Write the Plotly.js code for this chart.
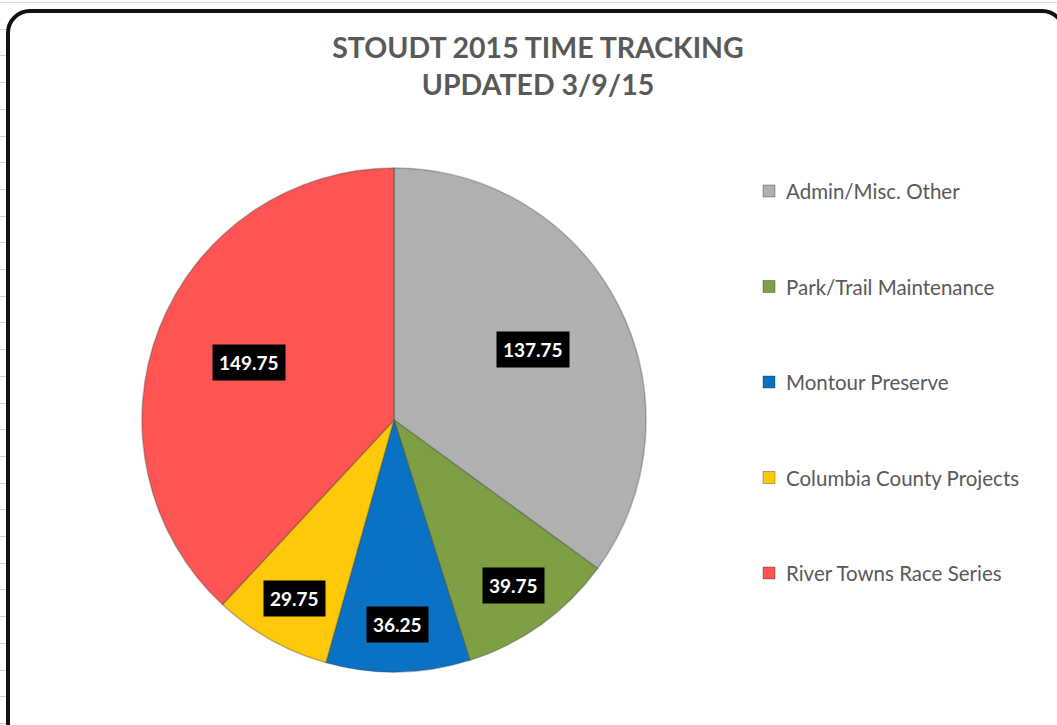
<!DOCTYPE html>
<html>
<head>
<meta charset="utf-8">
<script src="https://cdn.plot.ly/plotly-3.0.1.min.js"></script>
<style>
  html, body { margin:0; padding:0; width:1057px; height:725px; overflow:hidden; background:#fff; }
  #grid { position:absolute; left:0; top:0; width:1057px; height:725px;
    background-image:
      repeating-linear-gradient(to bottom, transparent 0px, transparent 2px, #d6d6d6 2px, #d6d6d6 3px, transparent 3px, transparent 26.7px);
  }
  #frame { position:absolute; left:6px; top:9px; width:1060px; height:740px; box-sizing:border-box;
    background:#fff; border:4px solid #111; border-radius:24px; }
  #chart { position:absolute; left:0; top:0; width:1057px; height:725px; }
</style>
</head>
<body>
<div id="grid"></div>
<div id="frame"></div>
<div id="chart"></div>
<script>
const categories = ["Admin/Misc. Other", "Park/Trail Maintenance", "Montour Preserve", "Columbia County Projects", "River Towns Race Series"];
const hours = [137.75, 39.75, 36.25, 29.75, 149.75];
const sliceColors = ["#b0b0b0", "#7f9f45", "#0a72c4", "#ffc90a", "#fe5454"];
const chartTitle = "STOUDT 2015 TIME TRACKING<br>UPDATED 3/9/15";

const W = 1057, H = 725;
const cx = 394, cy = 420, R = 252;

const total = hours.reduce((a, b) => a + b, 0);
const annotations = [];
const shapes = [];
let cum = 0;
hours.forEach((v, i) => {
  const mid = (cum + v / 2) / total * 2 * Math.PI;
  cum += v;
  const frac = v / total > 0.25 ? 0.62 : 0.81;
  const px = cx + frac * R * Math.sin(mid);
  const py = cy - frac * R * Math.cos(mid);
  annotations.push({
    xref: "paper", yref: "paper", x: px / W, y: 1 - py / H,
    text: "<b>" + v.toFixed(2) + "</b>", showarrow: false,
    font: { family: "Lato, 'Open Sans', sans-serif", size: 19, color: "#ffffff" },
    bgcolor: "#000000", borderpad: 6, xanchor: "center", yanchor: "middle"
  });
});

// legend built as annotations + squares
const legTop = 191, legGap = 95.5;
categories.forEach((c, i) => {
  const ly = legTop + i * legGap;
  shapes.push({
    type: "rect", xref: "paper", yref: "paper",
    x0: 763 / W, x1: 775 / W, y0: 1 - (ly - 6) / H, y1: 1 - (ly + 6) / H,
    fillcolor: sliceColors[i], line: { color: "rgba(0,0,0,0.3)", width: 1 }
  });
  annotations.push({
    xref: "paper", yref: "paper", x: 784 / W, y: 1 - ly / H,
    text: c, showarrow: false, xanchor: "left", yanchor: "middle",
    font: { family: "Lato, 'Open Sans', sans-serif", size: 20.5, color: "#595959" }
  });
});

const data = [{
  type: "pie",
  labels: categories,
  values: hours,
  sort: false,
  direction: "clockwise",
  rotation: 0,
  textinfo: "none",
  hoverinfo: "label+value",
  marker: { colors: sliceColors, line: { color: "rgba(60,60,60,0.35)", width: 1.5 } },
  domain: { x: [(cx - R) / W, (cx + R) / W], y: [1 - (cy + R) / H, 1 - (cy - R) / H] },
  showlegend: false
}];

const layout = {
  width: W, height: H,
  margin: { l: 0, r: 0, t: 0, b: 0 },
  paper_bgcolor: "rgba(0,0,0,0)",
  plot_bgcolor: "rgba(0,0,0,0)",
  title: {
    text: "<b>" + chartTitle + "</b>",
    x: 538 / W, xanchor: "center", y: 1 - 58 / H, yanchor: "middle",
    font: { family: "Lato, 'Open Sans', sans-serif", size: 28.5, color: "#595959" }
  },
  showlegend: false,
  annotations: annotations,
  shapes: shapes
};

Plotly.newPlot("chart", data, layout, { displayModeBar: false, staticPlot: true });
</script>
</body>
</html>
